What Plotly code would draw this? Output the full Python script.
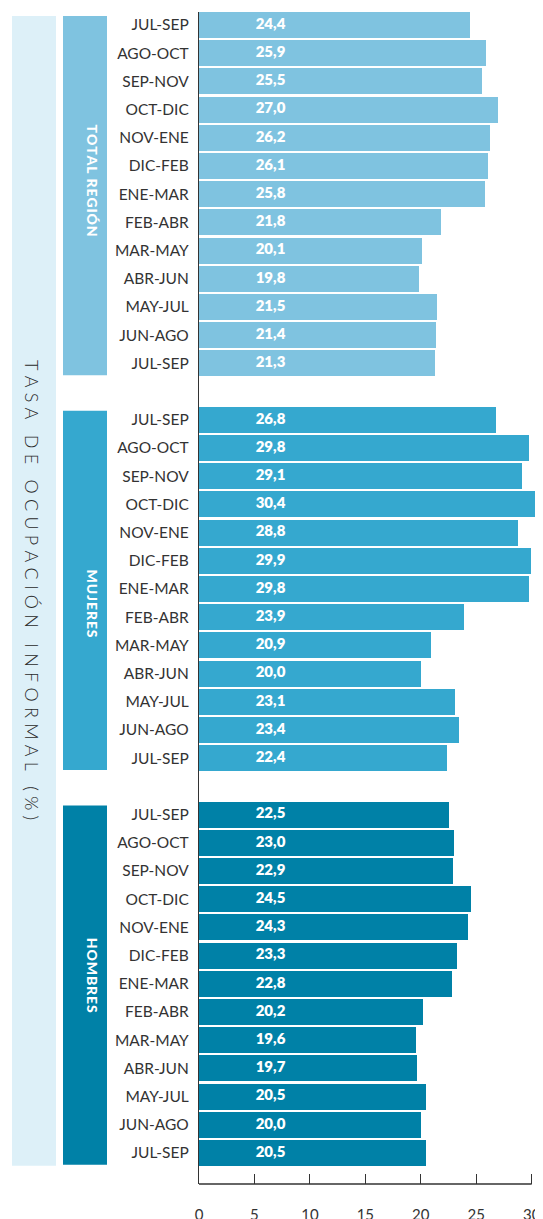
import plotly.graph_objects as go

periods = ["JUL-SEP", "AGO-OCT", "SEP-NOV", "OCT-DIC", "NOV-ENE", "DIC-FEB", "ENE-MAR",
           "FEB-ABR", "MAR-MAY", "ABR-JUN", "MAY-JUL", "JUN-AGO", "JUL-SEP"]
total_region = [24.4, 25.9, 25.5, 27.0, 26.2, 26.1, 25.8, 21.8, 20.1, 19.8, 21.5, 21.4, 21.3]
mujeres = [26.8, 29.8, 29.1, 30.4, 28.8, 29.9, 29.8, 23.9, 20.9, 20.0, 23.1, 23.4, 22.4]
hombres = [22.5, 23.0, 22.9, 24.5, 24.3, 23.3, 22.8, 20.2, 19.6, 19.7, 20.5, 20.0, 20.5]
group_names = ["TOTAL REGIÓN", "MUJERES", "HOMBRES"]
x_ticks = [0, 5, 10, 15, 20, 25, 30]
title_text = "TASA DE OCUPACIÓN INFORMAL (%)"

groups = [total_region, mujeres, hombres]
colors = ["#7FC3E0", "#35A8CF", "#0081A7"]
band_bg = "#DDF0F8"
label_offsets = [5.5, 6.5, 5.7]  # position of group label within its block
LABEL_X = 6.45
OFF = 8  # page body margin
W, H = 543 - OFF, 1219 - OFF
ML, MR, MT, MB = 199 - OFF, 0, 12 - OFF, 35
plot_w = W - ML - MR
plot_h = H - MT - MB

def px_to_paper_x(px):
    return (px - OFF - ML) / plot_w

def px_to_paper_y(py):
    return 1 - (py - OFF - MT) / plot_h

fig = go.Figure()
tickvals, ticktext = [], []
shapes, annotations = [], []
n = len(periods)
for g, vals in enumerate(groups):
    ys = [g * (n + 1) + i for i in range(n)]
    tickvals += ys
    ticktext += periods
    fig.add_trace(go.Bar(
        y=ys, x=vals, orientation="h", width=0.92,
        marker=dict(color=colors[g], line=dict(width=0)),
        hoverinfo="x", showlegend=False,
    ))
    fig.add_trace(go.Scatter(
        y=ys, x=[LABEL_X] * n, mode="text",
        text=[f"{v:.1f}".replace(".", ",") for v in vals],
        textposition="middle center",
        textfont=dict(color="white", size=15, family="Lato", weight=800),
        hoverinfo="skip", showlegend=False,
    ))
    shapes.append(dict(type="rect", xref="paper", yref="y",
                       x0=px_to_paper_x(63), x1=px_to_paper_x(107),
                       y0=ys[0] - 0.32, y1=ys[-1] + 0.42,
                       fillcolor=colors[g], line=dict(width=0), layer="below"))
    annotations.append(dict(xref="paper", yref="y", x=px_to_paper_x(82),
                            y=ys[0] + label_offsets[g],
                            text="\u200a".join(list(group_names[g])),
                            textangle=90, showarrow=False,
                            font=dict(color="white", size=14, family="Lato", weight=900)))

last_y = tickvals[-1]
shapes.append(dict(type="rect", xref="paper", yref="y",
                   x0=px_to_paper_x(12), x1=px_to_paper_x(56),
                   y0=tickvals[0] - 0.32, y1=last_y + 0.45,
                   fillcolor=band_bg, line=dict(width=0), layer="below"))
# bottom axis line from 0 to 30
shapes.append(dict(type="line", xref="x", yref="paper", x0=0, x1=x_ticks[-1],
                   y0=0, y1=0, line=dict(color="#333333", width=1.3)))

spaced_title = "\u2006\u2009".join(list(title_text))
annotations.append(dict(xref="paper", yref="paper", x=px_to_paper_x(32), y=px_to_paper_y(590),
                        yanchor="middle", xanchor="center", text=spaced_title, textangle=90,
                        showarrow=False,
                        font=dict(color="#2a2a2a", size=18, family="Lato", weight=300)))

fig.update_layout(
    width=W, height=H,
    margin=dict(l=ML, r=MR, t=MT, b=MB, autoexpand=False),
    paper_bgcolor="white", plot_bgcolor="white",
    barmode="overlay", bargap=0,
    shapes=shapes, annotations=annotations,
    xaxis=dict(range=[0, plot_w / 11.09], tickvals=x_ticks, ticks="inside", ticklen=10,
               tickcolor="#333333", tickwidth=1.3, showgrid=False, zeroline=False,
               showline=False, ticklabelstandoff=20, automargin=False,
               tickfont=dict(family="Lato", size=15, color="#333333")),
    yaxis=dict(range=[41.1, -0.46], tickvals=tickvals, ticktext=ticktext,
               showgrid=False, zeroline=False, showline=True, linecolor="#333333",
               linewidth=1.3, ticks="", ticklabelstandoff=6, automargin=False,
               tickfont=dict(family="Lato", size=15.5, color="#333333")),
)
fig.write_html("out.html")
